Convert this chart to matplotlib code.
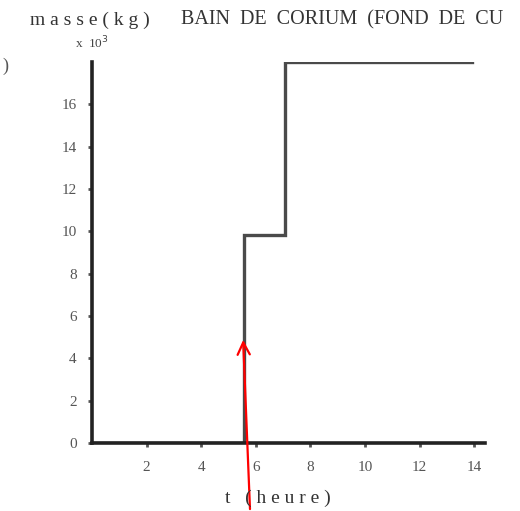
import matplotlib.pyplot as plt

# masse du bain de corium (x 10^3 kg) en fonction du temps (heures)
t = [0, 5.57, 7.07, 13.9]
masse = [0, 9.8, 18, 18]

x_ticks = [2, 4, 6, 8, 10, 12, 14]
y_ticks = [0, 2, 4, 6, 8, 10, 12, 14, 16]

# fleche rouge (debut, pointe)
fleche_debut = (5.79, -3.25)
fleche_pointe = (5.53, 5.0)

plt.rcParams['font.family'] = ['Liberation Serif', 'DejaVu Serif']

fig = plt.figure(figsize=(5.2, 5.11), dpi=100)
ax = fig.add_axes([0.177, 0.133, 0.756, 0.746])

ax.step(t, masse, where='post', color='#4a4a4a', lw=2.4, solid_joinstyle='miter')

ax.set_xlim(0, 14.4)
ax.set_ylim(0, 18)
for s in ['top', 'right']:
    ax.spines[s].set_visible(False)
for s in ['left', 'bottom']:
    ax.spines[s].set_linewidth(2.6)
    ax.spines[s].set_color('#222222')

ax.set_xticks(x_ticks)
ax.set_yticks(y_ticks)
ax.tick_params(axis='x', length=3, width=2, color='#555555', pad=10,
               labelsize=11, labelcolor='#555555', direction='out')
ax.tick_params(axis='y', length=3, width=2, color='#555555', pad=8,
               labelsize=11, labelcolor='#555555', direction='out')

ax.annotate('', xy=fleche_pointe, xytext=fleche_debut, xycoords='data',
            annotation_clip=False,
            arrowprops=dict(arrowstyle='->', color='red', lw=1.6,
                            mutation_scale=22))

fig.text(0.058, 0.952, 'm a s s e ( k g )', fontsize=14, color='#333333')
fig.text(0.348, 0.952, 'BAIN  DE  CORIUM  (FOND  DE  CU', fontsize=14.5, color='#333333')
fig.text(0.145, 0.905, 'x  10$^3$', fontsize=9.5, color='#444444')
fig.text(0.005, 0.862, ')', fontsize=13, color='#555555')
fig.text(0.535, 0.015, 't   ( h e u r e )', fontsize=14, color='#333333', ha='center')

fig.savefig('out.png', dpi=100)
